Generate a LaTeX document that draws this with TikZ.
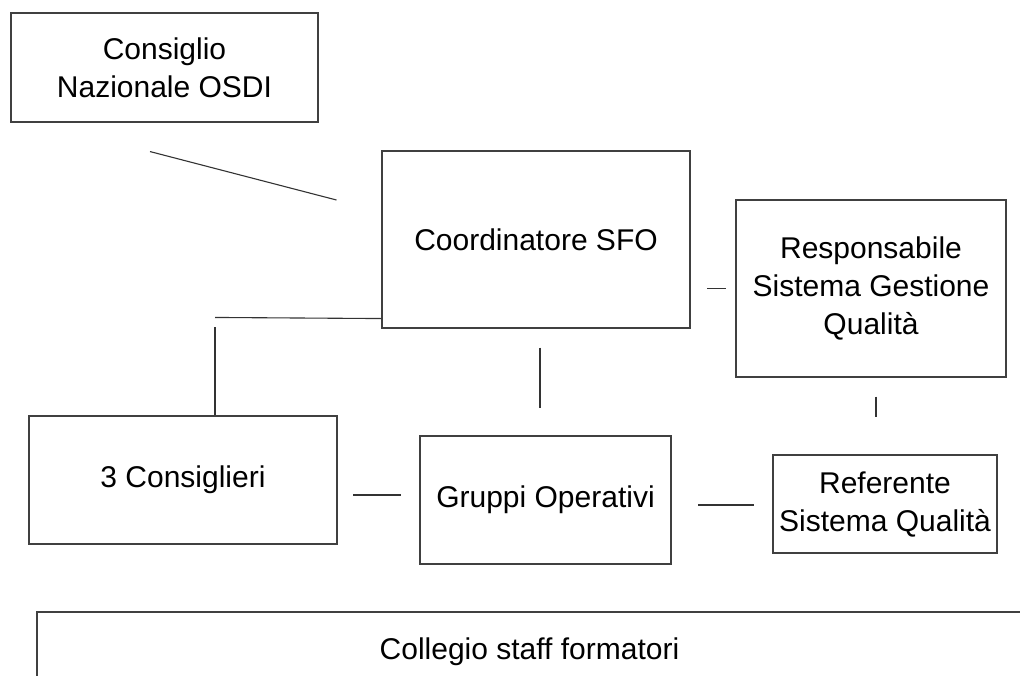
\documentclass[tikz,border=0pt]{standalone}
\usepackage{fontspec}
\setmainfont{Liberation Sans}

\begin{document}
\begin{tikzpicture}[x=1pt,y=-1pt,
  box/.style={draw=black!75,line width=1.1pt,inner sep=0pt,align=center,
    font=\fontsize{30}{38}\selectfont},
  link/.style={draw=black!80,line width=1.1pt}]
\useasboundingbox (0,0) rectangle (1020,675);
\clip (0,0) rectangle (1020,675);
\node[box,minimum width=307,minimum height=109] (consiglio) at (164.5,67.5) {Consiglio\\Nazionale OSDI};
\node[box,minimum width=308,minimum height=177] (coord) at (536,239.5) {Coordinatore SFO};
\node[box,minimum width=270,minimum height=177] (resp) at (871,288.5) {Responsabile\\Sistema Gestione\\Qualit\`a};
\node[box,minimum width=308,minimum height=128] (cons3) at (183,480) {3 Consiglieri};
\node[box,minimum width=251,minimum height=128] (gruppi) at (545.5,500) {Gruppi Operativi};
\node[box,minimum width=224,minimum height=98] (ref) at (885,504) {Referente\\Sistema Qualit\`a};
\node[box,minimum width=985,minimum height=80] (collegio) at (529.5,652) {Collegio staff formatori};
\draw[link] ([shift={(-14.5,29)}]consiglio.south) -- ([shift={(-45,-39.5)}]coord.west);
\draw[link] ([shift={(0,-10)}]coord.south west) -- ([shift={(32,-98)}]cons3.north);
\draw[link] ([shift={(32,-88)}]cons3.north) -- ([shift={(32,0)}]cons3.north);
\draw[link] ([shift={(4,19)}]coord.south) -- ([shift={(4,79)}]coord.south);
\draw[link] ([shift={(-28,0)}]resp.west) -- ([shift={(-9,0)}]resp.west);
\draw[link] ([shift={(5,19)}]resp.south) -- ([shift={(5,39)}]resp.south);
\draw[link] ([shift={(-66,-5)}]gruppi.west) -- ([shift={(-18,-5)}]gruppi.west);
\draw[link] ([shift={(-74,1)}]ref.west) -- ([shift={(-18,1)}]ref.west);
\end{tikzpicture}
\end{document}
